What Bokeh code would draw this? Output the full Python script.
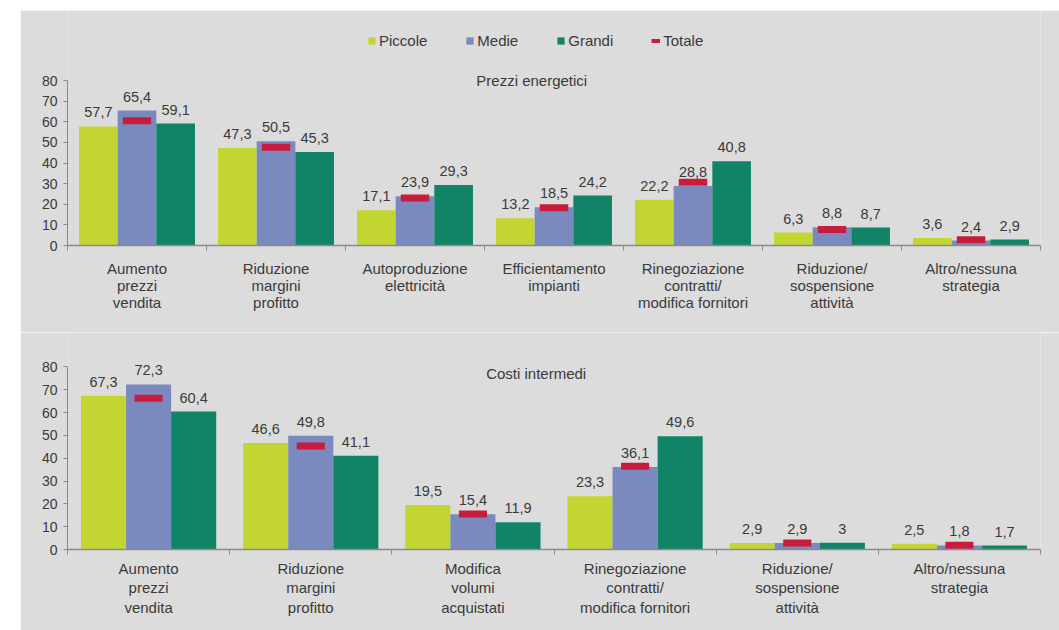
import numpy as np
from bokeh.plotting import figure
from bokeh.models import (ColumnDataSource, Range1d, FixedTicker, Legend,
                          LegendItem, Label, Spacer)
from bokeh.layouts import row, column
from bokeh.core.properties import value
from bokeh.embed import file_html
from bokeh.resources import INLINE

# ---------------- data ----------------
series_names = ["Piccole", "Medie", "Grandi", "Totale"]

top_title = "Prezzi energetici"
top_cats = ["Aumento\nprezzi\nvendita", "Riduzione\nmargini\nprofitto",
            "Autoproduzione\nelettricità", "Efficientamento\nimpianti",
            "Rinegoziazione\ncontratti/\nmodifica fornitori",
            "Riduzione/\nsospensione\nattività", "Altro/nessuna\nstrategia"]
top_piccole = [57.7, 47.3, 17.1, 13.2, 22.2, 6.3, 3.6]
top_medie = [65.4, 50.5, 23.9, 18.5, 28.8, 8.8, 2.4]
top_grandi = [59.1, 45.3, 29.3, 24.2, 40.8, 8.7, 2.9]
top_totale = [60.5, 47.6, 23.0, 18.3, 30.7, 7.8, 2.8]

bot_title = "Costi intermedi"
bot_cats = ["Aumento\nprezzi\nvendita", "Riduzione\nmargini\nprofitto",
            "Modifica\nvolumi\nacquistati",
            "Rinegoziazione\ncontratti/\nmodifica fornitori",
            "Riduzione/\nsospensione\nattività", "Altro/nessuna\nstrategia"]
bot_piccole = [67.3, 46.6, 19.5, 23.3, 2.9, 2.5]
bot_medie = [72.3, 49.8, 15.4, 36.1, 2.9, 1.8]
bot_grandi = [60.4, 41.1, 11.9, 49.6, 3.0, 1.7]
bot_totale = [66.2, 45.3, 15.6, 36.5, 2.8, 1.9]

y_ticks = [0, 10, 20, 30, 40, 50, 60, 70, 80]

# ---------------- style ----------------
COLORS = ["#c3d531", "#7b8abe", "#118468"]
RED = "#c81c3c"
BG = "#dcdcdc"
TXT = "#3a3a3a"
AX = "#8a8a8a"
FONT = "Liberation Sans"


def fmt(v):
    s = f"{v:.1f}"
    if s.endswith(".0"):
        s = s[:-2]
    return s.replace(".", ",")


def make_panel(title, cats, piccole, medie, grandi, totale, width, height,
               left, right, bottom, yend, title_x, title_y, tot_w,
               label_standoff, line_height, with_legend=False):
    n = len(cats)
    p = figure(width=width, height=height, x_range=Range1d(0, n),
               y_range=Range1d(0, yend), output_backend="svg",
               toolbar_location=None, min_border_left=left,
               min_border_right=right, min_border_top=0,
               min_border_bottom=bottom, background_fill_color=BG,
               border_fill_color=BG, outline_line_color=None)
    p.grid.visible = False
    centers = np.arange(n) + 0.5
    bw = 0.278
    rends = []
    for k, (vals, col) in enumerate(zip([piccole, medie, grandi], COLORS)):
        src = ColumnDataSource(dict(x=centers + (k - 1) * bw, top=vals,
                                    lab=[fmt(v) for v in vals]))
        r = p.vbar(x="x", top="top", width=bw, source=src, fill_color=col,
                   line_color=None)
        rends.append(r)
        p.text(x="x", y="top", text="lab", source=src, text_align="center",
               text_baseline="bottom", y_offset=-9, text_font=value(FONT),
               text_font_size="14.5px", text_color=TXT)
    tsrc = ColumnDataSource(dict(x=centers, y=totale))
    p.rect(x="x", y="y", width=tot_w, height=7, height_units="screen",
           source=tsrc, fill_color=RED, line_color=None)

    # y axis
    ya = p.yaxis[0]
    ya.bounds = (0, 80)
    ya.ticker = FixedTicker(ticks=y_ticks)
    ya.major_tick_out = 4
    ya.major_tick_in = 0
    ya.minor_tick_out = 0
    ya.minor_tick_in = 0
    ya.axis_line_color = AX
    ya.major_tick_line_color = AX
    ya.major_label_standoff = 6
    ya.major_label_text_font = FONT
    ya.major_label_text_font_size = "14px"
    ya.major_label_text_color = TXT

    # x axis
    xa = p.xaxis[0]
    xa.ticker = FixedTicker(ticks=[float(c) for c in centers],
                            minor_ticks=[float(i) for i in range(n + 1)])
    xa.major_label_overrides = {float(c): lab for c, lab in zip(centers, cats)}
    xa.major_tick_line_color = None
    xa.major_tick_out = 0
    xa.major_tick_in = 0
    xa.minor_tick_out = 5
    xa.minor_tick_in = 0
    xa.minor_tick_line_color = AX
    xa.axis_line_color = AX
    xa.axis_line_width = 1.5
    xa.major_label_standoff = label_standoff
    xa.major_label_text_font = FONT
    xa.major_label_text_font_size = "15px"
    xa.major_label_text_color = TXT
    xa.major_label_text_line_height = line_height

    p.add_layout(Label(x=title_x, y=title_y, text=title, text_align="center",
                       text_baseline="middle", text_font=FONT,
                       text_font_size="15px", text_color=TXT))

    if with_legend:
        proxy = p.line(x=[np.nan, np.nan], y=[np.nan, np.nan],
                       line_color=RED, line_width=4)
        items = [LegendItem(label=series_names[i], renderers=[rends[i]])
                 for i in range(3)]
        items.append(LegendItem(label=series_names[3], renderers=[proxy]))
        leg = Legend(items=items, orientation="horizontal", location=(300, 196),
                     glyph_width=9, glyph_height=9, label_standoff=3,
                     spacing=38, padding=0, margin=0, border_line_color=None,
                     background_fill_alpha=0, label_text_font=FONT,
                     label_text_font_size="15px", label_text_color=TXT)
        p.add_layout(leg)
    return p


p1 = make_panel(top_title, top_cats, top_piccole, top_medie, top_grandi,
                top_totale, width=1039, height=322, left=44, right=0,
                bottom=87, yend=235 / 2.0625, title_x=3.34, title_y=80,
                tot_w=0.205, label_standoff=9, line_height=1.0,
                with_legend=True)
p2 = make_panel(bot_title, bot_cats, bot_piccole, bot_medie, bot_grandi,
                bot_totale, width=1039, height=298, left=47, right=19,
                bottom=81, yend=217 / 2.283, title_x=2.89, title_y=77.2,
                tot_w=0.173, label_standoff=5, line_height=1.15)

layout = row(Spacer(width=20), column(Spacer(height=10), p1, p2))

open("out.html", "w").write(file_html(layout, INLINE))
